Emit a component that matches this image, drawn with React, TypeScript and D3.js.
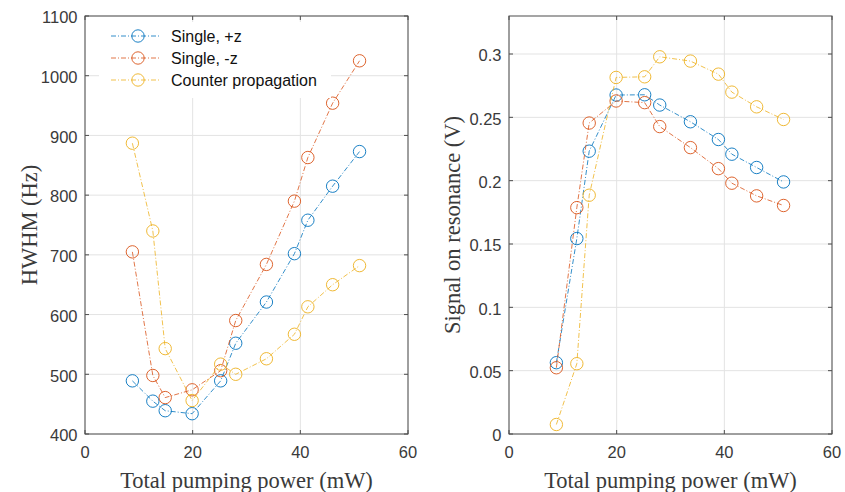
import React from 'react';
import * as d3 from 'd3';

// x values (total pumping power, mW)
const power = [8.8, 12.6, 14.9, 19.9, 25.2, 28.0, 33.7, 38.9, 41.4, 46.0, 51.0];

// HWHM (Hz)
const hwhmPlus = [489, 455, 439, 434, 489, 552, 621, 702, 758, 815, 873];
const hwhmMinus = [705, 498, 461, 474, 506, 590, 684, 790, 863, 954, 1025];
const hwhmCounter = [887, 740, 543, 456, 517, 500, 526, 567, 613, 650, 682];

// Signal on resonance (V)
const sigPlus = [0.0563, 0.1543, 0.2233, 0.2676, 0.2678, 0.2597, 0.2465, 0.2325, 0.2209, 0.2104, 0.199];
const sigMinus = [0.0523, 0.1787, 0.2455, 0.2629, 0.2616, 0.2427, 0.2261, 0.2095, 0.198, 0.188, 0.1804];
const sigCounter = [0.0075, 0.0555, 0.1885, 0.2815, 0.282, 0.2978, 0.2944, 0.2841, 0.2699, 0.2583, 0.2483];

const seriesNames = ['Single, +z', 'Single, -z', 'Counter propagation'];
const colors = ['#0072BD', '#D95319', '#EDB120'];

const xTicks = [0, 20, 40, 60];
const hwhmTicks = [400, 500, 600, 700, 800, 900, 1000, 1100];
const sigTicks = [0, 0.05, 0.1, 0.15, 0.2, 0.25, 0.3];

const tickFont = '"Liberation Sans", Arial, sans-serif';
const labelFont = '"Liberation Serif", "Times New Roman", serif';
const axisColor = '#4d4d4d';
const textColor = '#3a3a3a';
const gridColor = '#e3e3e3';
const dash = '5,2,1,2';

type PanelProps = {
  left: number; right: number; top: number; bottom: number;
  yDomain: [number, number];
  yTicks: number[];
  yFormat: (v: number) => string;
  series: number[][];
  yLabel: string;
  yLabelX: number;
  legend?: boolean;
};

const Panel = ({ left, right, top, bottom, yDomain, yTicks, yFormat, series, yLabel, yLabelX, legend }: PanelProps) => {
  const x = d3.scaleLinear().domain([0, 60]).range([left, right]);
  const y = d3.scaleLinear().domain(yDomain).range([bottom, top]);
  const line = d3.line<[number, number]>().x(d => x(d[0])).y(d => y(d[1]));
  const tl = 4;

  return (
    <g>
      {/* grid */}
      {xTicks.map(t => (
        <line key={'gx' + t} x1={x(t)} x2={x(t)} y1={top} y2={bottom} stroke={gridColor} strokeWidth={1} />
      ))}
      {yTicks.map(t => (
        <line key={'gy' + t} x1={left} x2={right} y1={y(t)} y2={y(t)} stroke={gridColor} strokeWidth={1} />
      ))}

      {/* data */}
      {series.map((vals, i) => {
        const pts = power.map((p, j) => [p, vals[j]] as [number, number]);
        return (
          <g key={'s' + i}>
            <path d={line(pts) || ''} fill="none" stroke={colors[i]} strokeWidth={0.8} strokeDasharray={dash} />
            {pts.map((p, j) => (
              <circle key={j} cx={x(p[0])} cy={y(p[1])} r={6.2} fill="none" stroke={colors[i]} strokeWidth={0.9} />
            ))}
          </g>
        );
      })}

      {/* box */}
      <rect x={left} y={top} width={right - left} height={bottom - top} fill="none" stroke={axisColor} strokeWidth={1} />

      {/* ticks */}
      {xTicks.map(t => (
        <g key={'tx' + t}>
          <line x1={x(t)} x2={x(t)} y1={bottom} y2={bottom - tl} stroke={axisColor} />
          <line x1={x(t)} x2={x(t)} y1={top} y2={top + tl} stroke={axisColor} />
          <text x={x(t)} y={bottom + 24} textAnchor="middle" fontFamily={tickFont} fontSize={16.5} fill={textColor}>{t}</text>
        </g>
      ))}
      {yTicks.map(t => (
        <g key={'ty' + t}>
          <line x1={left} x2={left + tl} y1={y(t)} y2={y(t)} stroke={axisColor} />
          <line x1={right} x2={right - tl} y1={y(t)} y2={y(t)} stroke={axisColor} />
          <text x={left - 7.5} y={y(t) + 1.5} dy="0.35em" textAnchor="end" fontFamily={tickFont} fontSize={16.5} fill={textColor}>{yFormat(t)}</text>
        </g>
      ))}

      {/* labels */}
      <text x={(left + right) / 2} y={bottom + 54} textAnchor="middle" fontFamily={labelFont} fontSize={22.5} fill={textColor}>Total pumping power (mW)</text>
      <text transform={`translate(${yLabelX},${(top + bottom) / 2}) rotate(-90)`} textAnchor="middle" dy="0.35em" fontFamily={labelFont} fontSize={22.5} fill={textColor}>{yLabel}</text>

      {legend && (
        <g>
          <rect x={left + 14} y={top + 6} width={232} height={76} fill="#fff" />
          {seriesNames.map((n, i) => {
            const ly = top + 20 + i * 22;
            return (
              <g key={n}>
                <line x1={left + 26} x2={left + 75} y1={ly} y2={ly} stroke={colors[i]} strokeWidth={0.8} strokeDasharray={dash} />
                <circle cx={left + 53} cy={ly} r={6.2} fill="none" stroke={colors[i]} strokeWidth={0.9} />
                <text x={left + 86} y={ly} dy="0.35em" fontFamily={tickFont} fontSize={16} fill="#111">{n}</text>
              </g>
            );
          })}
        </g>
      )}
    </g>
  );
};

export default function App() {
  return (
    <svg width={845} height={492} style={{ position: 'absolute', left: 0, top: 0, background: '#fff' }}>
      <Panel
        left={85} right={408} top={16} bottom={434}
        yDomain={[400, 1100]} yTicks={hwhmTicks} yFormat={d3.format('d')}
        series={[hwhmPlus, hwhmMinus, hwhmCounter]}
        yLabel="HWHM (Hz)" yLabelX={29} legend
      />
      <Panel
        left={509} right={832} top={16} bottom={434}
        yDomain={[0, 0.33]} yTicks={sigTicks} yFormat={v => String(+v.toFixed(2))}
        series={[sigPlus, sigMinus, sigCounter]}
        yLabel="Signal on resonance (V)" yLabelX={452}
      />
    </svg>
  );
}
